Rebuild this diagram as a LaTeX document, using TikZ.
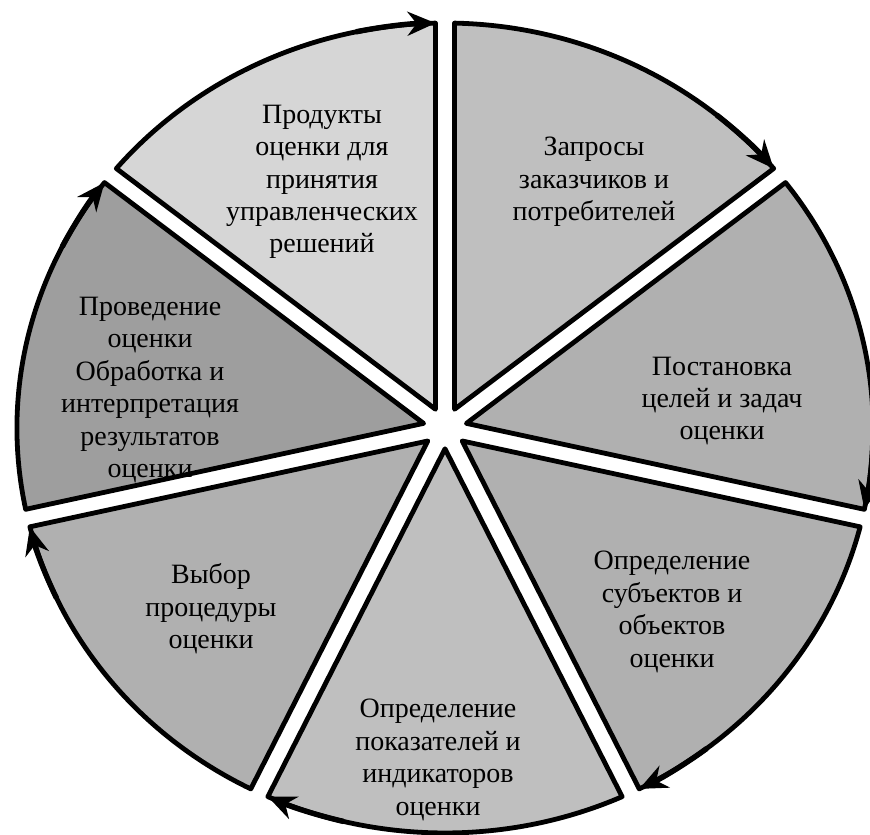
\documentclass[tikz,border=0pt]{standalone}
\usepackage{fontspec}
\setmainfont{Liberation Serif}
\usepackage{tikz}
\usetikzlibrary{arrows.meta}
\definecolor{segA}{gray}{0.84}
\definecolor{segB}{gray}{0.75}
\definecolor{segC}{gray}{0.69}
\definecolor{segD}{gray}{0.62}
\tikzset{
  sector/.style={draw=black, line width=2.4pt, line join=round},
  cycarrow/.style={-{Stealth[length=14pt,width=12pt]}, line width=2.7pt, draw=black},
  txt/.style={align=center, font=\fontsize{14}{16.2}\selectfont, inner sep=0pt},
}
\newcommand{\sektor}[2]{%
  \draw[sector, fill=#2] ({#1-25.714}:10.4pt) -- ({#1-1.27}:202.5pt)
    arc[start angle={#1-1.27}, end angle={#1-50.159}, radius=202.5pt] -- cycle;
  \draw[cycarrow] ({#1-39.429}:202.5pt)
    arc[start angle={#1-39.429}, end angle={#1-50.159}, radius=202.5pt];
}

\begin{document}
\begin{tikzpicture}[x=0.5pt, y=0.5pt]
    \useasboundingbox (0,0) rectangle (870,834);
    \begin{scope}[shift={(445,406)}, xscale=1.057]
      \sektor{90}{segB}
      \sektor{38.571}{segC}
      \sektor{-12.857}{segC}
      \sektor{-64.286}{segB}
      \sektor{-115.714}{segC}
      \sektor{-167.143}{segD}
      \sektor{-218.571}{segA}
    \end{scope}

    \node[txt] (prod) at (322,652) {Продукты\\ оценки для\\ принятия\\ управленческих\\ решений};
    \node[txt] (zapr) at (594,652) {Запросы\\ заказчиков и\\ потребителей};
    \node[txt] (post) at (722,433) {Постановка\\ целей и задач\\ оценки};
    \node[txt] (subj) at (672,222) {Определение\\ субъектов и\\ объектов\\ оценки};
    \node[txt] (pokaz) at (438,74) {Определение\\ показателей и\\ индикаторов\\ оценки};
    \node[txt] (vybor) at (211,225) {Выбор\\ процедуры\\ оценки};
    \node[txt] (proved) at (150,444) {Проведение\\ оценки\\ Обработка и\\ интерпретация\\ результатов\\ оценки};
  \end{tikzpicture}
\end{document}
